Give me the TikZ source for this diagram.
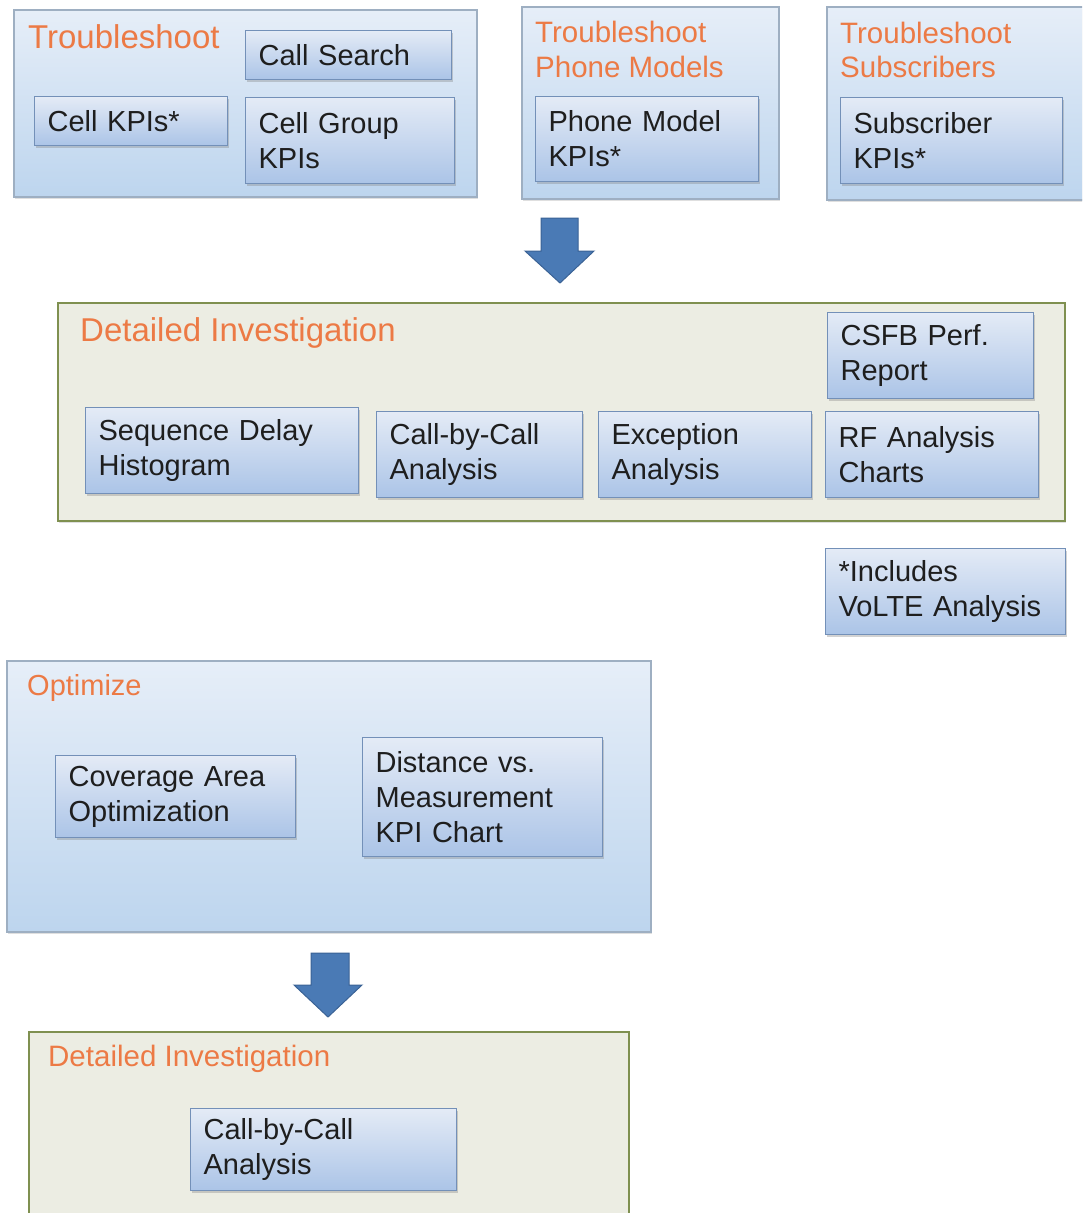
\documentclass[tikz,border=0pt]{standalone}
\usepackage{fontspec}
\setmainfont{Liberation Sans}
\usetikzlibrary{shadows}
\definecolor{ttl}{HTML}{EC7A45}
\definecolor{txt}{HTML}{1E1E1E}
\definecolor{obtop}{HTML}{E6EEF8}
\definecolor{obbot}{HTML}{BDD5EE}
\definecolor{obdraw}{HTML}{9EAFC2}
\definecolor{ibtop}{HTML}{E4EBF6}
\definecolor{ibbot}{HTML}{ABC4E7}
\definecolor{ibdraw}{HTML}{7390B8}
\definecolor{gfill}{HTML}{ECEDE3}
\definecolor{gdraw}{HTML}{7F9050}
\definecolor{arrfill}{HTML}{4A7AB5}
\definecolor{arrdraw}{HTML}{3A6295}
\tikzset{
  outerbox/.style={draw=obdraw, line width=1.2pt, top color=obtop, bottom color=obbot,
    drop shadow={shadow xshift=1pt, shadow yshift=-2pt, opacity=0.25}},
  greenbox/.style={draw=gdraw, line width=1.2pt, fill=gfill,
    drop shadow={shadow xshift=1pt, shadow yshift=-2pt, opacity=0.25}},
  ibox/.style={draw=ibdraw, line width=1.2pt, top color=ibtop, bottom color=ibbot,
    drop shadow={shadow xshift=1.5pt, shadow yshift=-2.5pt, opacity=0.35},
    anchor=north west, align=left, inner xsep=13pt, inner ysep=0pt,
    text=txt, font=\fontsize{29}{35}\selectfont},
  ttlA/.style={text=ttl, anchor=base west, inner sep=0pt, align=left},
  blockarrow/.style={fill=arrfill, draw=arrdraw, line width=1pt}
}
% ibox width W -> text width = W - 26
\begin{document}
\begin{tikzpicture}[x=1pt,y=-1pt]
\useasboundingbox (0,0) rectangle (1082,1213);
\clip (0,0) rectangle (1082,1213);
\fill[white] (0,0) rectangle (1082,1213);

% ---------- Troubleshoot ----------
\draw[outerbox] (14,10) rectangle (477,197);
\node[ttlA, font=\fontsize{33}{38}\selectfont] (tA) at (28,48) {Troubleshoot};
\node[ibox, text width=180pt, minimum height=49pt] (callsearch) at (245,30) {Call Search};
\node[ibox, text width=167pt, minimum height=49pt] (cellkpi) at (34,96) {Cell KPIs*};
\node[ibox, text width=183pt, minimum height=86pt] (cellgroup) at (245,97) {Cell Group\\KPIs};

% ---------- Troubleshoot Phone Models ----------
\draw[outerbox] (522,7) rectangle (779,199);
\node[ttlA, font=\fontsize{29.5}{34.5}\selectfont] (tB) at (535,42) {Troubleshoot};
\node[ttlA, font=\fontsize{29.5}{34.5}\selectfont] (tB2) at (535,77) {Phone Models};
\node[ibox, text width=197pt, minimum height=85pt] (phone) at (535,96) {Phone Model\\KPIs*};

% ---------- Troubleshoot Subscribers ----------
\draw[outerbox] (827,7) rectangle (1100,200);
\node[ttlA, font=\fontsize{29.5}{34.5}\selectfont] (tC) at (840,43) {Troubleshoot};
\node[ttlA, font=\fontsize{29.5}{34.5}\selectfont] (tC2) at (840,77) {Subscribers};
\node[ibox, text width=196pt, minimum height=86pt] (subs) at (840,97) {Subscriber\\KPIs*};

% ---------- arrow 1 ----------
\draw[blockarrow] (541,218) -- (578,218) -- (578,251) -- (594,251) -- (560,283)
  -- (525,251) -- (541,251) -- cycle;

% ---------- Detailed Investigation ----------
\draw[greenbox] (58,303) rectangle (1065,521);
\node[ttlA, font=\fontsize{33}{38}\selectfont] (tD) at (80,341) {Detailed Investigation};
\node[ibox, text width=180pt, minimum height=86pt] (csfb) at (827,312) {CSFB Perf.\\Report};
\node[ibox, text width=247pt, minimum height=86pt] (seq) at (85,407) {Sequence Delay\\Histogram};
\node[ibox, text width=180pt, minimum height=86pt] (cbc1) at (376,411) {Call-by-Call\\Analysis};
\node[ibox, text width=187pt, minimum height=86pt] (exc) at (598,411) {Exception\\Analysis};
\node[ibox, text width=187pt, minimum height=86pt] (rf) at (825,411) {RF Analysis\\Charts};

% ---------- note ----------
\node[ibox, text width=214pt, minimum height=86pt] (note) at (825,548) {*Includes\\VoLTE Analysis};

% ---------- Optimize ----------
\draw[outerbox] (7,661) rectangle (651,932);
\node[ttlA, font=\fontsize{29}{34}\selectfont] (tE) at (27,695) {Optimize};
\node[ibox, text width=214pt, minimum height=82pt] (cov) at (55,755) {Coverage Area\\Optimization};
\node[ibox, text width=214pt, minimum height=119pt] (dist) at (362,737) {Distance vs.\\Measurement\\KPI Chart};

% ---------- arrow 2 ----------
\draw[blockarrow] (311,953) -- (349,953) -- (349,985) -- (362,985) -- (328,1017)
  -- (294,985) -- (311,985) -- cycle;

% ---------- Detailed Investigation (bottom) ----------
\draw[greenbox] (29,1032) rectangle (629,1240);
\node[ttlA, font=\fontsize{29.5}{34}\selectfont] (tF) at (48,1066) {Detailed Investigation};
\node[ibox, text width=240pt, minimum height=82pt] (cbc2) at (190,1108) {Call-by-Call\\Analysis};
\end{tikzpicture}
\end{document}
